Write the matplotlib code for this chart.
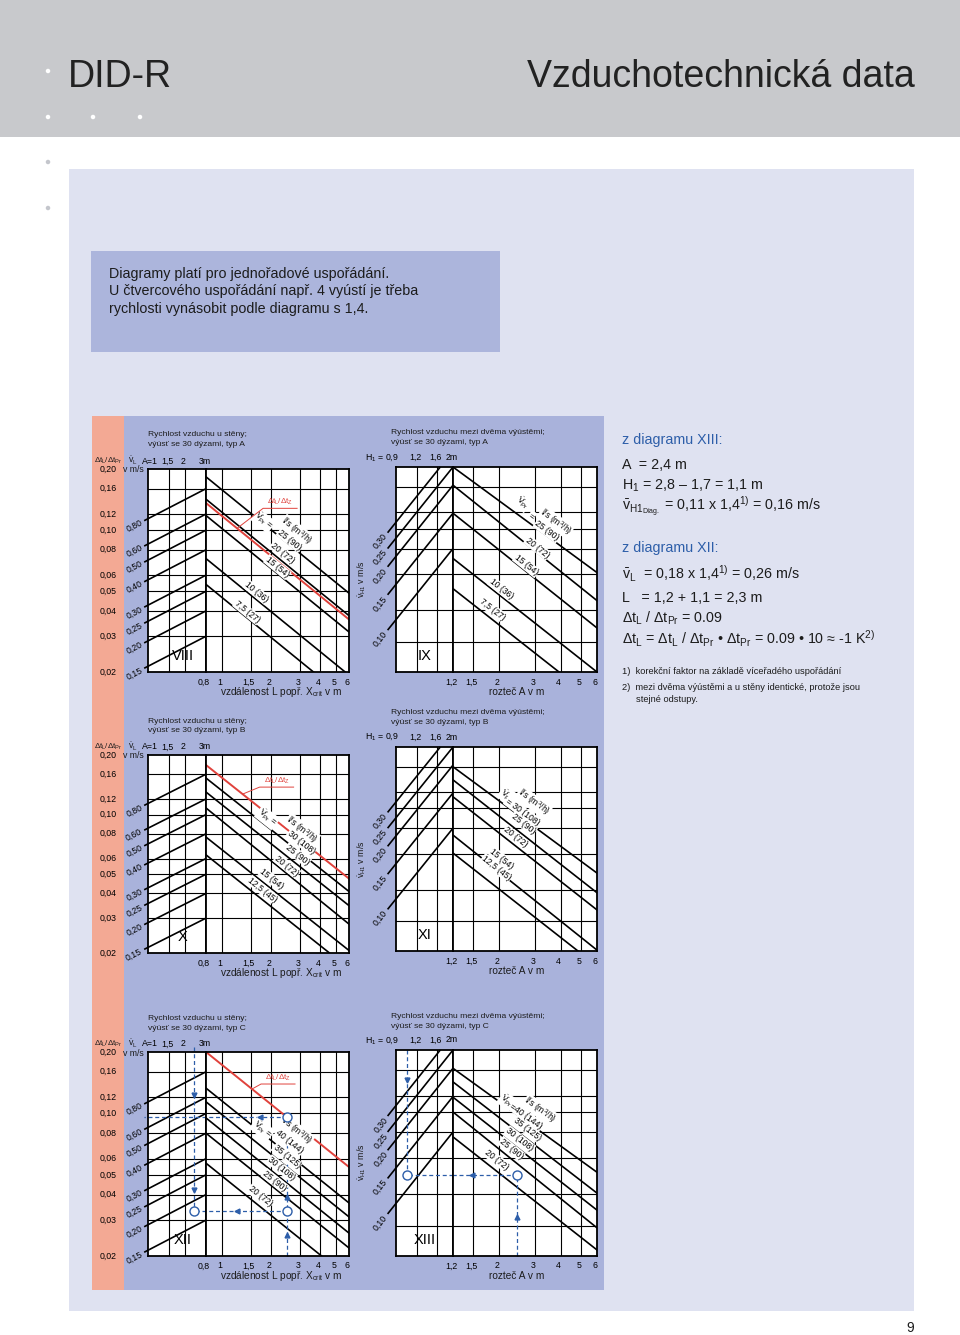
import numpy as np
import matplotlib
matplotlib.use('Agg')
import matplotlib.pyplot as plt
import matplotlib.transforms as mtrans
from matplotlib.patches import Rectangle, Ellipse
from matplotlib.lines import Line2D
from matplotlib.ticker import NullLocator

W, H = 960, 1335
plt.rcParams['font.family'] = ['Liberation Sans', 'DejaVu Sans']
plt.rcParams['mathtext.fontset'] = 'custom'
plt.rcParams['mathtext.rm'] = 'Liberation Sans'
plt.rcParams['mathtext.it'] = 'Liberation Sans:italic'
plt.rcParams['mathtext.bf'] = 'Liberation Sans:bold'

RED = '#e0423c'
BLUE = '#2d5ea9'
INK = '#1c1c1c'

# ---------------- data ----------------
dt_ticks = [0.20, 0.16, 0.12, 0.10, 0.08, 0.06, 0.05, 0.04, 0.03, 0.02]
dt_ticklabels = ['0,20', '0,16', '0,12', '0,10', '0,08', '0,06', '0,05', '0,04', '0,03', '0,02']
wall_grid_y = [0.16, 0.12, 0.10, 0.08, 0.06, 0.05, 0.04, 0.03]
pitch_grid_y = [0.16, 0.12, 0.10, 0.08, 0.06, 0.04, 0.028]

wall_A = [1, 1.5, 2, 3]
wall_A_labels = ['A=1', '1,5', '2', '3m']
wall_x = [0.8, 1, 1.5, 2, 3, 4, 5, 6]
wall_x_labels = ['0,8', '1', '1,5', '2', '3', '4', '5', '6']
vL_labels = ['0,80', '0,60', '0,50', '0,40', '0,30', '0,25', '0,20', '0,15']
vL_at_A3 = [0.16, 0.12, 0.10, 0.08, 0.06, 0.05, 0.04, 0.03]
vL_exp = 0.31

pitch_H = [0.9, 1.2, 1.6, 2]
pitch_H_labels = ['H$_1$ = 0,9', '1,2', '1,6', '2m']
pitch_x = [1.2, 1.5, 2, 3, 4, 5, 6]
pitch_x_labels = ['1,2', '1,5', '2', '3', '4', '5', '6']
vH_labels = ['0,30', '0,25', '0,20', '0,15', '0,10']
vH_at_H2 = [0.239, 0.20, 0.163, 0.119, 0.080]
vH_exp = 1.0

# flow lines: value at left and right edge of the right hand part
viii_start = [0.183, 0.142, 0.118, 0.0724, 0.054]
viii_end = [0.0489, 0.0379, 0.0315, 0.0193, 0.0144]
viii_red = [0.136, 0.0363]
x_start = [0.153, 0.130, 0.108, 0.077, 0.0626]
x_end = [0.0409, 0.0347, 0.028, 0.0206, 0.0167]
x_red = [0.178, 0.0475]
xii_start = [0.133, 0.114, 0.095, 0.080, 0.057]
xii_end = [0.0364, 0.0311, 0.0259, 0.0219, 0.0156]
xii_red = [0.20, 0.0546]
ix_start = [0.20, 0.163, 0.119, 0.0716, 0.051]
ix_end = [0.0611, 0.0446, 0.0328, 0.020, 0.0143]
xi_start = [0.160, 0.138, 0.114, 0.074, 0.0604]
xi_end = [0.0482, 0.0386, 0.0318, 0.0202, 0.0169]
xiii_start = [0.163, 0.140, 0.118, 0.100, 0.0757]
xiii_end = [0.051, 0.0404, 0.0334, 0.0274, 0.0214]

VPR = r'$\dot{\mathrm{V}}_{\mathrm{Pr}}$'
LS = 'l/s (m$^3$/h)'
# (text, line, x along line, distance above line in px)
viii_labels = [(VPR + ' =', 0, 1.76, 2), (LS, 0, 2.52, 15), ('25 (90)', 0, 2.52, 4),
               ('20 (72)', 1, 2.22, 7), ('15 (54)', 2, 2.09, 5), ('10 (36)', 3, 1.55, 6),
               ('7,5 (27)', 4, 1.37, 5)]
x_labels = [(VPR + ' =', 0, 1.78, 7), (LS, 0, 2.61, 19), ('30 (108)', 0, 2.84, 9),
            ('25 (90)', 1, 2.71, 8), ('20 (72)', 2, 2.37, 6), ('15 (54)', 3, 1.89, 8),
            ('12,5 (45)', 4, 1.66, 8)]
xii_labels = [(VPR + ' =', 0, 1.72, 3), (LS, 0, 2.33, 23), ('40 (144)', 0, 2.37, 11),
              ('35 (125)', 1, 2.33, 8), ('30 (108)', 2, 2.17, 8), ('25 (90)', 3, 2.0, 6),
              ('20 (72)', 4, 1.6, 8)]
ix_labels = [(VPR, 0, 2.4, 12), ('=', 0, 2.76, 7), (LS, 0, 3.39, 16), ('25 (90)', 0, 3.34, 4),
             ('20 (72)', 1, 3.0, 4), ('15 (54)', 2, 2.63, 5), ('10 (36)', 3, 1.97, 6),
             ('7,5 (27)', 4, 1.76, 8)]
xi_labels = [(VPR, 0, 2.06, 9), ('= 30 (108)', 0, 2.52, 5), (LS, 0, 2.6, 19),
             ('25 (90)', 1, 2.48, 9), ('20 (72)', 2, 2.31, 7), ('15 (54)', 3, 1.9, 12),
             ('12,5 (45)', 4, 1.76, 15)]
xiii_labels = [(VPR, 0, 2.11, 5), ('=40 (144)', 0, 2.65, 4), (LS, 0, 2.84, 17),
               ('35 (125)', 1, 2.62, 8), ('30 (108)', 2, 2.4, 8), ('25 (90)', 3, 2.18, 8),
               ('20 (72)', 4, 1.84, 9)]

# worked example (diagrams XII and XIII)
xii_L, xii_A, xii_v = 2.5, 2.4, 0.0333
xiii_A, xiii_H, xiii_v = 2.45, 1.05, 0.0494

fig = plt.figure(figsize=(W / 100, H / 100), dpi=100)
fig.patch.set_facecolor('white')


def rect(x0, y0, x1, y1, color):
    fig.add_artist(Rectangle((x0 / W, 1 - y1 / H), (x1 - x0) / W, (y1 - y0) / H,
                             transform=fig.transFigure, fc=color, ec='none', zorder=0))


def ftext(px, py, s, **kw):
    kw.setdefault('color', INK)
    return fig.text(px / W, 1 - py / H, s, **kw)


def dot(px, py, color):
    fig.add_artist(Ellipse((px / W, 1 - py / H), 4.5 / W, 4.5 / H, transform=fig.transFigure,
                           fc=color, ec='none', zorder=1))


# page background
rect(0, 0, W, 137, '#c8c9cc')
rect(69, 169, 914, 1311, '#dfe2f1')
rect(91, 251, 500, 352, '#acb5dc')
rect(92, 416, 604, 1290, '#a9b2db')
rect(92, 416, 124, 1290, '#f3a994')
for px, py in [(48, 71), (48, 117), (93, 117), (140, 117)]:
    dot(px, py, 'white')
for py in [162, 208]:
    dot(48, py, '#c4c6cc')

ftext(68, 77, 'DID-R', fontsize=27, va='center', color='#222222')
ftext(915, 77, 'Vzduchotechnická data', fontsize=27, va='center', ha='right', color='#222222')
for i, s in enumerate(['Diagramy platí pro jednořadové uspořádání.',
                       'U čtvercového uspořádání např. 4 vyústí je třeba',
                       'rychlosti vynásobit podle diagramu s 1,4.']):
    ftext(109, 274 + 17.5 * i, s, fontsize=10.3, va='center')
ftext(910, 1328, '9', fontsize=10, ha='center', va='center')


def seg(x0, v0, x1, v1, x):
    k = np.log(v1 / v0) / np.log(x1 / x0)
    return v0 * (x / x0) ** k


def angle(ax, p0, p1):
    a = ax.transData.transform(p0)
    b = ax.transData.transform(p1)
    return np.degrees(np.arctan2(b[1] - a[1], b[0] - a[0]))


def axes_px(x0, x1, top, bot):
    return fig.add_axes([x0 / W, 1 - bot / H, (x1 - x0) / W, (bot - top) / H])


def prep(ax, xlim, gx, gy):
    ax.set_xscale('log')
    ax.set_yscale('log')
    ax.set_xlim(*xlim)
    ax.set_ylim(0.02, 0.2)
    for a in (ax.xaxis, ax.yaxis):
        a.set_major_locator(NullLocator())
        a.set_minor_locator(NullLocator())
    ax.set_facecolor('white')
    for v in gx:
        ax.axvline(v, color='k', lw=0.8, zorder=1)
    for v in gy:
        ax.axhline(v, color='k', lw=0.8, zorder=1)
    for s in ax.spines.values():
        s.set_linewidth(1.3)
        s.set_zorder(6)


def chart(kind, top, bot, fstart, fend, labels, red=None, tag=None, numeral='', title=()):
    if kind == 'wall':
        x0, xm, x1 = 148, 206, 349
        lim_l, lim_r = (1, 3), (0.8, 6)
        gx_l, gx_r = wall_A[1:3], wall_x[1:-1]
        gy = wall_grid_y
    else:
        x0, xm, x1 = 396, 453, 597
        lim_l, lim_r = (0.9, 2), (1.2, 6)
        gx_l, gx_r = pitch_H[1:3], pitch_x[1:-1]
        gy = pitch_grid_y
    axL = axes_px(x0, xm, top, bot)
    axR = axes_px(xm, x1, top, bot)
    prep(axL, lim_l, gx_l, gy)
    prep(axR, lim_r, gx_r, gy)
    small = 6.3

    # left part: velocity lines
    if kind == 'wall':
        vals, labs, xs, xe0, ex = vL_at_A3, vL_labels, 0.93, 3, vL_exp
    else:
        vals, labs, xs, xe0, ex = vH_at_H2, vH_labels, 0.8, 2, vH_exp
    for lab, ve in zip(labs, vals):
        xe = min(xe0, xe0 * (0.2 / ve) ** (1 / ex))
        f = lambda a: ve * (a / xe0) ** ex
        axL.plot([xs, xe], [f(xs), f(xe)], color='k', lw=1.2, clip_on=False, zorder=3,
                 solid_capstyle='butt')
        ang = angle(axL, (xs, f(xs)), (xe, f(xe)))
        r = np.radians(ang)
        axL.annotate(lab, (xs, f(xs)), xytext=(-2 * np.cos(r), -2 * np.sin(r)),
                     textcoords='offset points', ha='right', va='center', rotation=ang,
                     rotation_mode='anchor', fontsize=small, annotation_clip=False)

    # right part: flow lines
    r0, r1 = lim_r
    for s, e in zip(fstart, fend):
        axR.plot([r0, r1], [s, e], color='k', lw=1.2, zorder=3)
    if red is not None:
        axR.plot([r0, r1], red, color=RED, lw=1.4, zorder=3)
        xf, dx, dy = tag
        X, Y = axR.transData.transform((xf, seg(r0, red[0], r1, red[1], xf)))
        ux, uy = X + dx, Y + dy
        fig.add_artist(Line2D([X / W, ux / W, (ux + 34) / W], [Y / H, uy / H, uy / H],
                              transform=fig.transFigure, color=RED, lw=0.7, zorder=7))
        fig.text((ux + 17) / W, (uy + 6) / H, 'Δt$_\\mathrm{L}$/Δt$_\\mathrm{Z}$', color=RED,
                 ha='center', va='center', fontsize=5.8, zorder=7)
    for txt, i, x, d in labels:
        v = seg(r0, fstart[i], r1, fend[i], x)
        ang = angle(axR, (r0, fstart[i]), (r1, fend[i]))
        r = np.radians(ang)
        axR.annotate(txt, (x, v), xytext=(-np.sin(r) * d * 0.72, np.cos(r) * d * 0.72),
                     textcoords='offset points', ha='center', va='center', rotation=ang,
                     rotation_mode='anchor', fontsize=6.2, zorder=5,
                     bbox=dict(boxstyle='square,pad=0.08', fc='white', ec='none'))

    axL.text(0.6 if kind == 'wall' else 0.5, 0.08, numeral, transform=axL.transAxes,
             ha='center', va='center', fontsize=10.5, zorder=5)

    # scales and captions
    tx_l = mtrans.offset_copy(mtrans.blended_transform_factory(axL.transData, fig.transFigure),
                              fig=fig, x=-1.5, units='dots')
    tx_r = mtrans.offset_copy(mtrans.blended_transform_factory(axR.transData, fig.transFigure),
                              fig=fig, x=-2, units='dots')
    tx_y = mtrans.blended_transform_factory(fig.transFigure, axL.transData)
    yb = 1 - (bot + 10) / H
    if kind == 'wall':
        for v, s in zip(dt_ticks, dt_ticklabels):
            fig.text(108 / W, v, s, transform=tx_y, ha='center', va='center', fontsize=small)
        ftext(108, top - 8, 'Δt$_\\mathrm{L}$/Δt$_\\mathrm{Pr}$', ha='center', va='center',
              fontsize=5.8)
        ftext(133, top - 8, r'$\dot{\mathrm{v}}_\mathrm{L}$', ha='center', va='center',
              fontsize=small)
        ftext(133, top + 1, 'v m/s', ha='center', va='center', fontsize=small)
        for a, s in zip(wall_A, wall_A_labels):
            fig.text(a * (1.07 if a == 1 else 1.0), 1 - (top - 8) / H, s, transform=tx_l,
                     ha='center', va='center', fontsize=small)
        for x, s in zip(wall_x, wall_x_labels):
            fig.text(x, yb, s, transform=tx_r, ha='center', va='center', fontsize=small)
        ftext(281, bot + 20, 'vzdálenost L popř. X$_\\mathrm{crit}$ v m', ha='center',
              va='center', fontsize=7.3)
        tx0 = 148
    else:
        for h, s in zip(pitch_H, pitch_H_labels):
            fig.text(h * (1.055 if h == 0.9 else 1.0), 1 - (top - 10) / H, s, transform=tx_l,
                     ha='right' if h == 0.9 else 'center', va='center', fontsize=small)
        for x, s in zip(pitch_x, pitch_x_labels):
            fig.text(x, yb, s, transform=tx_r, ha='center', va='center', fontsize=small)
        ftext(517, bot + 20, 'rozteč A v m', ha='center', va='center', fontsize=7.3)
        ftext(362, top + 112, r'$\dot{\mathrm{v}}_\mathrm{H1}$ v m/s', rotation=90,
              ha='center', va='center', fontsize=small)
        tx0 = 391
    ftext(tx0, top - 34, title[0], va='center', fontsize=6.1)
    ftext(tx0, top - 24, title[1], va='center', fontsize=6.1)
    return axL, axR


t_wall = 'Rychlost vzduchu u stěny;'
t_pitch = 'Rychlost vzduchu mezi dvěma výústěmi;'
chart('wall', 469, 672, viii_start, viii_end, viii_labels, viii_red, (1.24, 26, 20), 'VIII',
      (t_wall, 'výúsť se 30 dýzami, typ A'))
chart('pitch', 467, 672, ix_start, ix_end, ix_labels, numeral='IX',
      title=(t_pitch, 'výúsť se 30 dýzami, typ A'))
chart('wall', 755, 953, x_start, x_end, x_labels, x_red, (1.34, 17, 7), 'X',
      (t_wall, 'výúsť se 30 dýzami, typ B'))
chart('pitch', 747, 951, xi_start, xi_end, xi_labels, numeral='XI',
      title=(t_pitch, 'výúsť se 30 dýzami, typ B'))
aL, aR = chart('wall', 1052, 1256, xii_start, xii_end, xii_labels, xii_red, (1.53, 9, 5), 'XII',
               (t_wall, 'výúsť se 30 dýzami, typ C'))
bL, bR = chart('pitch', 1050, 1256, xiii_start, xiii_end, xiii_labels, numeral='XIII',
               title=(t_pitch, 'výúsť se 30 dýzami, typ C'))

# worked example in XII and XIII
dash = dict(color=BLUE, lw=0.9, ls=(0, (3.2, 2.2)), zorder=3.5, clip_on=False)
ring = dict(marker='o', ms=6.5, mfc='white', mec=BLUE, mew=1.0, ls='none', zorder=6,
            clip_on=False)
head = dict(color=BLUE, ms=3.5, ls='none', zorder=6, clip_on=False)

vr = seg(0.8, xii_red[0], 6, xii_red[1], xii_L)
aR.plot([xii_L, xii_L], [0.02, vr], **dash)
aR.plot([xii_L, 0.8], [vr, vr], **dash)
aR.plot([xii_L, 0.8], [xii_v, xii_v], **dash)
aL.plot([3, 0.93], [vr, vr], **dash)
aL.plot([xii_A, xii_A], [0.212, xii_v], **dash)
aL.plot([3, xii_A], [xii_v, xii_v], **dash)
aR.plot([1.71], [vr], marker='<', **head)
aR.plot([1.24], [xii_v], marker='<', **head)
aR.plot([xii_L, xii_L], [0.0254, 0.0389], marker='^', **head)
aL.plot([xii_A, xii_A], [0.123, 0.0422], marker='v', **head)
aR.plot([xii_L, xii_L], [vr, xii_v], **ring)
aL.plot([xii_A], [xii_v], **ring)

bL.plot([xiii_H, xiii_H], [0.2, xiii_v], **dash)
bL.plot([2, xiii_H], [xiii_v, xiii_v], **dash)
bR.plot([xiii_A, 1.2], [xiii_v, xiii_v], **dash)
bR.plot([xiii_A, xiii_A], [0.02, xiii_v], **dash)
bL.plot([xiii_H], [0.143], marker='v', **head)
bR.plot([1.49], [xiii_v], marker='<', **head)
bR.plot([xiii_A], [0.0309], marker='^', **head)
bL.plot([xiii_H], [xiii_v], **ring)
bR.plot([xiii_A], [xiii_v], **ring)

# worked example text
big = 10.3
rows = [(440, 'z diagramu XIII:', BLUE),
        (465, 'A  = 2,4 m', INK),
        (486, 'H$_1$ = 2,8 – 1,7 = 1,1 m', INK),
        (507, r'$\bar{\mathrm{v}}_{\mathrm{H1}_{\mathrm{Diag.}}}$ = 0,11 x 1,4$^{1)}$ = 0,16 m/s', INK),
        (548, 'z diagramu XII:', BLUE),
        (574, r'$\bar{\mathrm{v}}_\mathrm{L}$  = 0,18 x 1,4$^{1)}$ = 0,26 m/s', INK),
        (598, 'L   = 1,2 + 1,1 = 2,3 m', INK),
        (618, 'Δt$_\\mathrm{L}$ / Δt$_\\mathrm{Pr}$ = 0.09', INK),
        (639, 'Δt$_\\mathrm{L}$ = Δt$_\\mathrm{L}$ / Δt$_\\mathrm{Pr}$ • Δt$_\\mathrm{Pr}$'
              ' = 0.09 • 10 ≈ -1 K$^{2)}$', INK)]
for py, s, c in rows:
    ftext(622, py, s, fontsize=big, va='center', color=c)
ftext(622, 672, '1)  korekční faktor na základě víceřadého uspořádání', fontsize=6.7, va='center')
ftext(622, 688, '2)  mezi dvěma výústěmi a u stěny identické, protože jsou', fontsize=6.7,
      va='center')
ftext(636, 700, 'stejné odstupy.', fontsize=6.7, va='center')

fig.savefig('out.png', dpi=100)
